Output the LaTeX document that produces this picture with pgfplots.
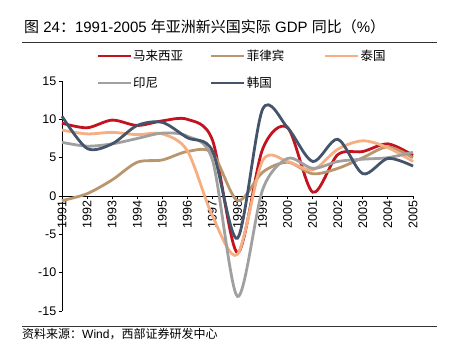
\documentclass[border=0pt]{standalone}
\usepackage{pgfplots}
\pgfplotsset{compat=1.18}
\usepackage{fontspec}
\setmainfont{Liberation Sans}
\newfontfamily\cjk{Noto Sans CJK SC}
\definecolor{cmy}{RGB}{196,18,30}
\definecolor{cph}{RGB}{185,150,110}
\definecolor{cth}{RGB}{245,175,130}
\definecolor{cid}{RGB}{160,160,160}
\definecolor{ckr}{RGB}{68,84,106}
\begin{document}
\begin{tikzpicture}[x=1pt,y=1pt]
\useasboundingbox (0,0) rectangle (451,350);
\node[anchor=west,inner sep=0pt,font=\fontsize{15}{17}\selectfont] at (24,323)
  {{\cjk 图} 24{\cjk ：}1991-2005 {\cjk 年亚洲新兴国实际} GDP {\cjk 同比（}\%{\cjk ）}};
\draw[line width=0.8pt,black!80] (22,308) -- (437,308);
\draw[line width=0.8pt,black!80] (22,24) -- (437,24);
\node[anchor=west,inner sep=0pt,font=\fontsize{12}{14}\selectfont] at (22,16)
  {{\cjk 资料来源：}Wind{\cjk ，西部证券研发中心}};
\begin{axis}[
  at={(62pt,39pt)}, anchor=south west,
  scale only axis, width=351pt, height=230pt,
  xmin=1991, xmax=2005, ymin=-15, ymax=15,
  axis y line=left, axis x line=middle,
  hide obscured x ticks=false, hide obscured y ticks=false,
  axis line style={-, line width=0.8pt, black},
  xtick={1991,...,2005}, ytick={-15,-10,...,15},
  tick align=outside, major tick length=3.5pt,
  tick style={line width=0.8pt, black},
  /pgf/number format/1000 sep={},
  /pgf/number format/assume math mode=true,
  ticklabel style={font=\fontsize{12.5}{14}\selectfont},
  xticklabel style={rotate=90, anchor=east, inner sep=1pt},
  yticklabel style={inner sep=2pt},
  every axis plot/.append style={line width=2.8pt, smooth, no marks},
  legend columns=3,
  legend image code/.code={\draw[#1,line width=2.8pt] (0pt,0pt) -- (33pt,0pt);},
  legend style={draw=none, fill=none, inner sep=0pt, row sep=11pt,
    at={(axis description cs:0.097,1.05)}, anchor=west,
    font=\fontsize{12.5}{14}\selectfont, legend cell align=left},
  clip=false,
]
\addplot[cmy] coordinates {(1991,9.5)(1992,8.9)(1993,9.9)(1994,9.2)(1995,9.8)(1996,10.0)(1997,7.3)(1998,-7.4)(1999,6.1)(2000,8.9)(2001,0.5)(2002,5.4)(2003,5.8)(2004,6.8)(2005,5.3)};
\addlegendentry{\hspace{-1pt}\makebox[75pt][l]{\cjk 马来西亚}}
\addplot[cph] coordinates {(1991,-0.6)(1992,0.3)(1993,2.1)(1994,4.4)(1995,4.7)(1996,5.8)(1997,5.6)(1998,-0.6)(1999,3.1)(2000,4.4)(2001,2.9)(2002,3.6)(2003,5.0)(2004,6.4)(2005,5.0)};
\addlegendentry{\hspace{-1pt}\makebox[75pt][l]{\cjk 菲律宾}}
\addplot[cth] coordinates {(1991,8.6)(1992,8.1)(1993,8.3)(1994,8.0)(1995,8.1)(1996,5.9)(1997,-2.6)(1998,-7.6)(1999,4.6)(2000,4.5)(2001,3.4)(2002,6.1)(2003,7.2)(2004,6.3)(2005,4.5)};
\addlegendentry{\hspace{-1pt}\makebox[75pt][l]{\cjk 泰国}}
\addplot[cid] coordinates {(1991,7.0)(1992,6.5)(1993,6.8)(1994,7.5)(1995,8.2)(1996,7.8)(1997,4.7)(1998,-13.1)(1999,0.8)(2000,4.9)(2001,3.6)(2002,4.5)(2003,4.8)(2004,5.0)(2005,5.7)};
\addlegendentry{\hspace{-1pt}\makebox[75pt][l]{\cjk 印尼}}
\addplot[ckr] coordinates {(1991,10.4)(1992,6.2)(1993,6.8)(1994,9.2)(1995,9.6)(1996,7.6)(1997,5.9)(1998,-5.5)(1999,11.3)(2000,8.9)(2001,4.5)(2002,7.4)(2003,2.9)(2004,4.9)(2005,3.9)};
\addlegendentry{\hspace{-1pt}\makebox[75pt][l]{\cjk 韩国}}
\end{axis}
\end{tikzpicture}
\end{document}
